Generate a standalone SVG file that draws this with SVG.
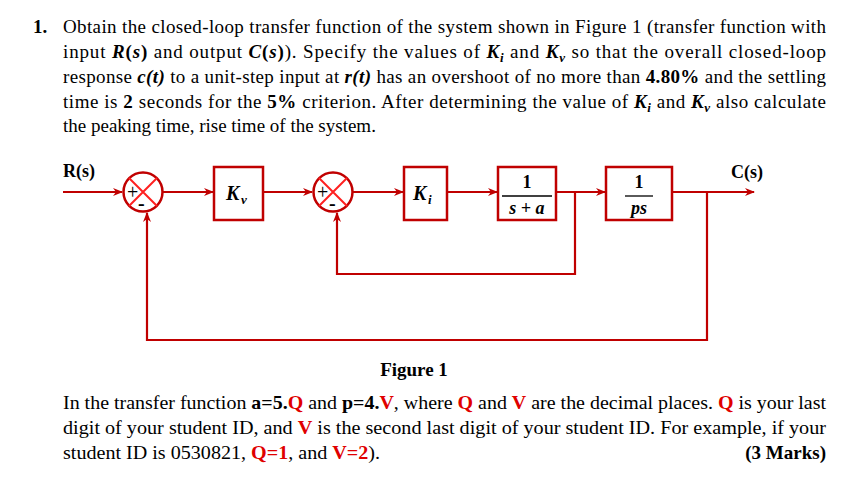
<svg xmlns="http://www.w3.org/2000/svg" width="863" height="487" viewBox="0 0 863 487">
<style>
text{font-family:"Liberation Serif","Times New Roman",serif;fill:#000}
.t{font-size:19px}
.b{font-weight:bold}
.bi{font-weight:bold;font-style:italic}
.red{fill:#e00000}
.ln{stroke:#c00000;stroke-width:2.2;fill:none}
.box{stroke:#c00000;stroke-width:2.5;fill:#fff}
.x{stroke:#ff2020;stroke-width:2}
</style>
<defs>
<marker id="ar" markerWidth="10" markerHeight="8" refX="9" refY="4" orient="auto" markerUnits="userSpaceOnUse">
<path d="M0,0 L10,4 L0,8 L3,4 Z" fill="#c00000"/>
</marker>
</defs>
<text class="t" x="33" y="33"><tspan class="b">1.</tspan></text>
<text class="t" x="63" y="33" textLength="763" lengthAdjust="spacing">Obtain the closed-loop transfer function of the system shown in Figure 1 (transfer function with</text>
<text class="t" x="63" y="58" textLength="763" lengthAdjust="spacing">input <tspan class="bi">R</tspan><tspan class="b">(</tspan><tspan class="bi">s</tspan><tspan class="b">)</tspan> and output <tspan class="bi">C</tspan><tspan class="b">(</tspan><tspan class="bi">s</tspan><tspan class="b">)</tspan>). Specify the values of <tspan class="bi">K</tspan><tspan class="bi" font-size="13" dy="4">i</tspan><tspan dy="-4"> and </tspan><tspan class="bi">K</tspan><tspan class="bi" font-size="13" dy="4">v</tspan><tspan dy="-4"> so that the overall closed-loop</tspan></text>
<text class="t" x="63" y="83" textLength="763" lengthAdjust="spacing">response <tspan class="bi">c(t)</tspan> to a unit-step input at <tspan class="bi">r(t)</tspan> has an overshoot of no more than <tspan class="b">4.80%</tspan> and the settling</text>
<text class="t" x="63" y="108" textLength="763" lengthAdjust="spacing">time is <tspan class="b">2</tspan> seconds for the <tspan class="b">5%</tspan> criterion. After determining the value of <tspan class="bi">K</tspan><tspan class="bi" font-size="13" dy="4">i</tspan><tspan dy="-4"> and </tspan><tspan class="bi">K</tspan><tspan class="bi" font-size="13" dy="4">v</tspan><tspan dy="-4"> also calculate</tspan></text>
<text class="t" x="63" y="132">the peaking time, rise time of the system.</text>

<g id="connectors">
<path class="ln" d="M63,192 H122" marker-end="url(#ar)"/>
<path class="ln" d="M163,192 H213" marker-end="url(#ar)"/>
<path class="ln" d="M263,192 H312" marker-end="url(#ar)"/>
<path class="ln" d="M353,192 H403" marker-end="url(#ar)"/>
<path class="ln" d="M447,192 H497" marker-end="url(#ar)"/>
<path class="ln" d="M556,192 H605" marker-end="url(#ar)"/>
<path class="ln" d="M672,192 H754" marker-end="url(#ar)"/>
<path class="ln" d="M575,192 V274 H337 V213" marker-end="url(#ar)"/>
<path class="ln" d="M707,192 V340 H147 V213" marker-end="url(#ar)"/>
</g>

<g id="R"><text class="b" font-size="18" x="63" y="177">R(s)</text></g>
<g id="C"><text class="b" font-size="18" x="731" y="178">C(s)</text></g>

<g id="sum1">
<circle cx="143" cy="192" r="19.5" fill="#fff" stroke="#c00000" stroke-width="2.5"/>
<path class="x" d="M129,178 L157,206 M157,178 L129,206"/>
<text x="127" y="199" font-size="20" font-family="Liberation Sans,sans-serif">+</text>
<text x="138" y="210" font-size="20" class="b">-</text>
</g>
<g id="Kv">
<rect class="box" x="214" y="167" width="49" height="53"/>
<text class="bi" x="226" y="200" font-size="20">K</text><text class="bi" x="241" y="204" font-size="13">v</text>
</g>
<g id="sum2">
<circle cx="333" cy="192" r="19.5" fill="#fff" stroke="#c00000" stroke-width="2.5"/>
<path class="x" d="M319,178 L347,206 M347,178 L319,206"/>
<text x="317" y="199" font-size="20" font-family="Liberation Sans,sans-serif">+</text>
<text x="329" y="210" font-size="20" class="b">-</text>
</g>
<g id="Ki">
<rect class="box" x="404" y="167" width="43" height="53"/>
<text class="bi" x="413" y="200" font-size="20">K</text><text class="bi" x="428" y="204" font-size="13">i</text>
</g>
<g id="G1">
<rect class="box" x="498" y="167" width="58" height="53"/>
<text class="b" x="527" y="188" font-size="18" text-anchor="middle">1</text>
<line x1="502" y1="196" x2="552" y2="196" stroke="#000" stroke-width="1.3"/>
<text class="bi" x="527" y="214" font-size="18" text-anchor="middle">s + a</text>
</g>
<g id="G2">
<rect class="box" x="606" y="167" width="66" height="53"/>
<text class="b" x="639" y="188" font-size="18" text-anchor="middle">1</text>
<line x1="625" y1="196" x2="653" y2="196" stroke="#000" stroke-width="1.3"/>
<text class="bi" x="639" y="214" font-size="18" text-anchor="middle">ps</text>
</g>

<text class="b" x="414" y="376" font-size="19" text-anchor="middle">Figure 1</text>
<text class="t" x="63" y="409" textLength="763" lengthAdjust="spacingAndGlyphs">In the transfer function <tspan class="b">a=5.</tspan><tspan class="b red">Q</tspan> and <tspan class="b">p=4.</tspan><tspan class="b red">V</tspan>, where <tspan class="b red">Q</tspan> and <tspan class="b red">V</tspan> are the decimal places. <tspan class="b red">Q</tspan> is your last</text>
<text class="t" x="63" y="434" textLength="763" lengthAdjust="spacingAndGlyphs">digit of your student ID, and <tspan class="b red">V</tspan> is the second last digit of your student ID. For example, if your</text>
<text class="t" x="63" y="459" textLength="317" lengthAdjust="spacingAndGlyphs">student ID is 0530821, <tspan class="b red">Q=1</tspan>, and <tspan class="b red">V=2</tspan>).</text>
<text class="t b" x="826" y="459" text-anchor="end">(3 Marks)</text>
</svg>
